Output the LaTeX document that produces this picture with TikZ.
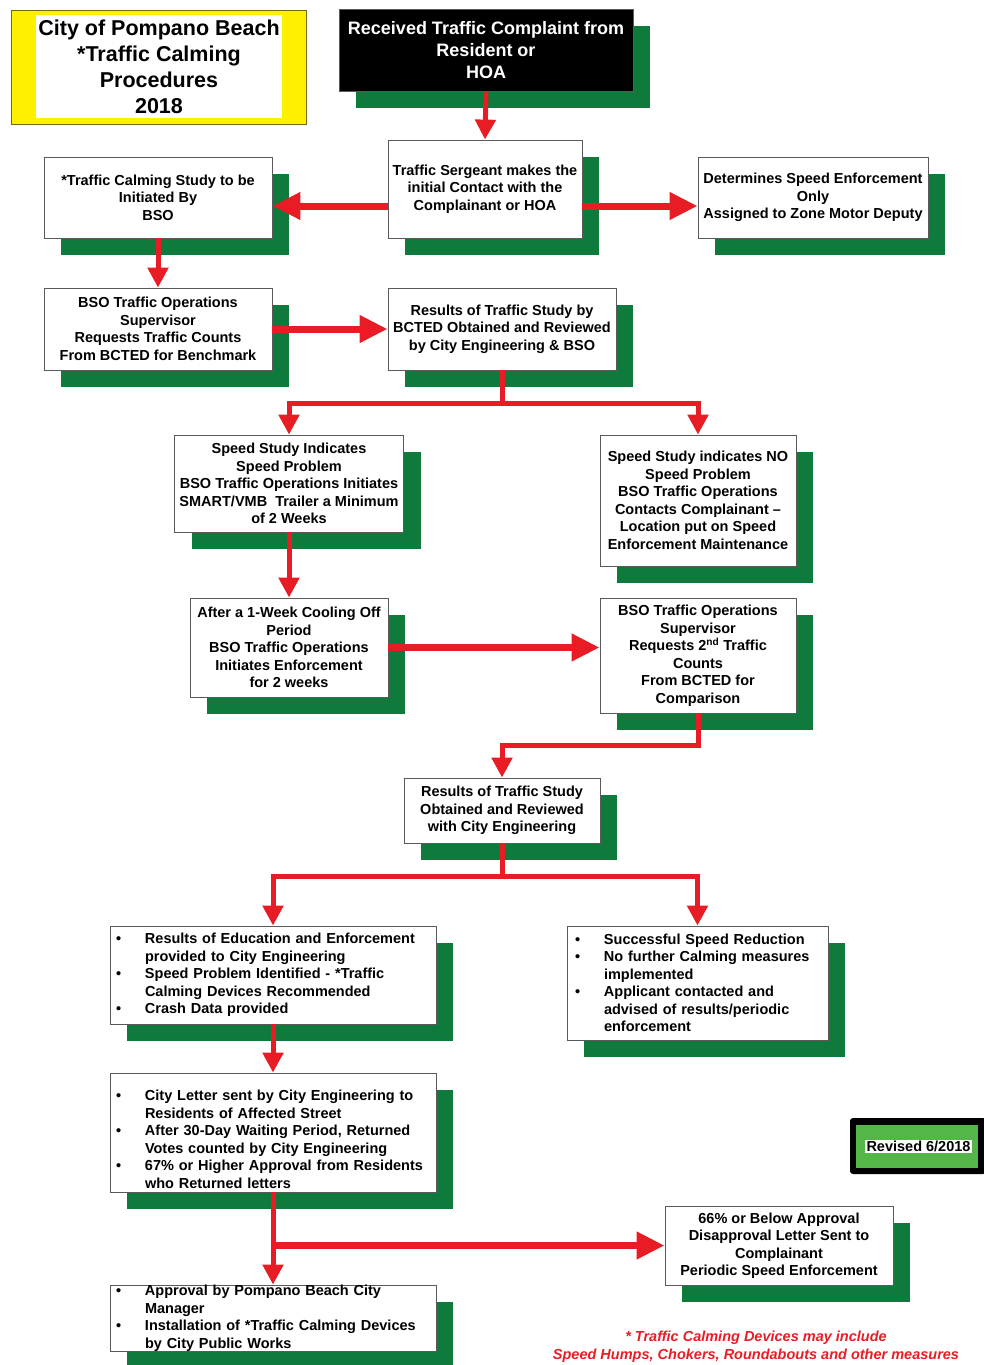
\documentclass[tikz,border=0pt]{standalone}
\usepackage{fontspec}
\setmainfont{Liberation Sans}
\usetikzlibrary{arrows.meta,shadows,calc}
\definecolor{shgreen}{RGB}{14,122,60}
\definecolor{arred}{RGB}{232,28,36}
\definecolor{revgreen}{RGB}{84,182,72}
\definecolor{titleyellow}{RGB}{255,240,0}
\definecolor{boxline}{RGB}{90,90,90}
\newcommand\bxf{\bfseries\fontsize{14.5}{17.5}\selectfont}
\newcommand\mybul{\makebox[29pt][l]{\textbullet}}
\newcommand\myind{\hspace*{29pt}}
\begin{document}
\begin{tikzpicture}[x=1pt,y=-1pt,
 stepbox/.style={draw=boxline,line width=0.8pt,fill=white,align=center,inner sep=0pt,font=\bxf,
   drop shadow={shadow xshift=17pt,shadow yshift=-17pt,opacity=1,fill=shgreen}},
 bulbox/.style={stepbox,align=left,inner xsep=6pt},
 conn/.style={draw=arred,line width=5pt},
 arr/.style={conn,-{Triangle[width=20pt,length=20pt]}},
 bigarr/.style={draw=arred,line width=7pt,-{Triangle[width=26pt,length=28pt]}},
]
\useasboundingbox (0,0) rectangle (984,1365);

% title
\node[fill=titleyellow,draw=black!55!titleyellow,line width=0.8pt,minimum width=295pt,minimum height=114pt,inner sep=0pt] (titleframe) at (158.5,67) {};
\node[fill=white,minimum width=246pt,minimum height=103pt,inner sep=0pt,align=center,font=\bfseries\fontsize{21.5}{26}\selectfont] (title) at (159,66.5) {City of Pompano Beach\\*Traffic Calming\\Procedures\\2018};

% boxes
\node[stepbox,fill=black,text=white,font=\bfseries\fontsize{18}{22}\selectfont,minimum width=294pt,minimum height=82pt] (top) at (486,50) {Received Traffic Complaint from\\Resident or\\HOA};
\node[stepbox,minimum width=194pt,minimum height=98pt] (serg) at (485,189) {Traffic Sergeant makes the\\initial Contact with the\\Complainant or HOA};
\node[stepbox,minimum width=228pt,minimum height=81pt] (lb) at (158,197.5) {*Traffic Calming Study to be\\Initiated By\\BSO};
\node[stepbox,minimum width=230pt,minimum height=81pt] (rb) at (813,197.5) {Determines Speed Enforcement\\Only\\Assigned to Zone Motor Deputy};
\node[stepbox,minimum width=228pt,minimum height=82pt] (bso) at (158,329) {BSO Traffic Operations\\Supervisor\\Requests Traffic Counts\\From BCTED for Benchmark};
\node[stepbox,minimum width=228pt,minimum height=82pt] (res) at (502,329) {Results of Traffic Study by\\BCTED Obtained and Reviewed\\by City Engineering \& BSO};
\node[stepbox,minimum width=229pt,minimum height=97pt] (spd) at (289,483.5) {Speed Study Indicates\\Speed Problem\\BSO Traffic Operations Initiates\\SMART/VMB\ \ Trailer a Minimum\\of 2 Weeks};
\node[stepbox,minimum width=196pt,minimum height=131pt] (nospd) at (698,500.5) {Speed Study indicates NO\\Speed Problem\\BSO Traffic Operations\\Contacts Complainant --\\Location put on Speed\\Enforcement Maintenance};
\node[stepbox,minimum width=198pt,minimum height=99pt] (after) at (289,647.5) {After a 1-Week Cooling Off\\Period\\BSO Traffic Operations\\Initiates Enforcement\\for 2 weeks};
\node[stepbox,minimum width=196pt,minimum height=115pt] (b2) at (698,655.5) {BSO Traffic Operations\\Supervisor\\Requests 2\textsuperscript{nd} Traffic\\Counts\\From BCTED for\\Comparison};
\node[stepbox,minimum width=196pt,minimum height=65pt] (res2) at (502,810.5) {Results of Traffic Study\\Obtained and Reviewed\\with City Engineering};
\node[bulbox,minimum width=326pt,minimum height=98pt,text width=314pt] (lbul) at (273,975) {\mybul Results of Education and Enforcement\\\myind provided to City Engineering\\\mybul Speed Problem Identified - *Traffic\\\myind Calming Devices Recommended\\\mybul Crash Data provided};
\node[bulbox,inner xsep=8pt,minimum width=261pt,minimum height=114pt,text width=245pt] (rbul) at (697.5,983) {\mybul Successful Speed Reduction\\\mybul No further Calming measures\\\myind implemented\\\mybul Applicant contacted and\\\myind advised of results/periodic\\\myind enforcement};
\node[bulbox,minimum width=326pt,minimum height=119pt,text width=314pt] (city) at (273,1132.5) {\rule{0pt}{24pt}\mybul City Letter sent by City Engineering to\\\myind Residents of Affected Street\\\mybul After 30-Day Waiting Period, Returned\\\myind Votes counted by City Engineering\\\mybul 67\% or Higher Approval from Residents\\\myind who Returned letters};
\node[stepbox,minimum width=228pt,minimum height=79pt] (p66) at (779,1245.5) {66\% or Below Approval\\Disapproval Letter Sent to\\Complainant\\Periodic Speed Enforcement};
\node[bulbox,minimum width=326pt,minimum height=66pt,text width=314pt] (appr) at (273,1318) {\mybul Approval by Pompano Beach City\\\myind Manager\\\mybul Installation of *Traffic Calming Devices\\\myind by City Public Works};

% revised badge
\node[fill=black,rounded corners=3pt,minimum width=136pt,minimum height=56pt,inner sep=0pt] (revframe) at (918,1146) {};
\node[fill=revgreen,minimum width=122pt,minimum height=43pt,inner sep=0pt] (revbg) at (917,1146.5) {};
\node[fill=white,inner sep=1.5pt,font=\bxf] (rev) at (918.5,1146.5) {Revised 6/2018};

% footnote
\node[text=arred,font=\bfseries\itshape\fontsize{14.5}{18}\selectfont,align=center] (note) at (756,1347) {* Traffic Calming Devices may include\\Speed Humps, Chokers, Roundabouts and other measures};

% connectors
\draw[arr] (top.south) -- (serg.north);
\coordinate (sl) at ([yshift=-17pt]serg.west);
\coordinate (sr) at ([yshift=-17pt]serg.east);
\draw[bigarr] (sl) -- (sl -| lb.east);
\draw[bigarr] (sr) -- (sr -| rb.west);
\draw[arr] (lb.south) -- (bso.north);
\draw[bigarr] (bso.east) -- (bso.east -| res.west);
\coordinate (j1) at ($(res.south)+(0,33)$);
\draw[conn] (res.south) -- (j1);
\draw[arr] (j1) -| (spd.north);
\draw[arr] (j1) -| (nospd.north);
\draw[arr] (spd.south) -- (after.north);
\draw[bigarr] (after.east) -- (after.east -| b2.west);
\coordinate (j2) at ($(b2.south)+(0,32)$);
\draw[arr] (b2.south) -- (j2) -| (res2.north);
\coordinate (j3) at ($(res2.south)+(0,33)$);
\draw[conn] (res2.south) -- (j3);
\draw[arr] (j3) -| (lbul.north);
\draw[arr] (j3) -| (rbul.north);
\draw[arr] (lbul.south) -- (city.north);
\draw[arr] (city.south) -- (appr.north);
\coordinate (j4) at (city.south |- p66.west);
\draw[bigarr] (j4) -- (p66.west);
\end{tikzpicture}
\end{document}
